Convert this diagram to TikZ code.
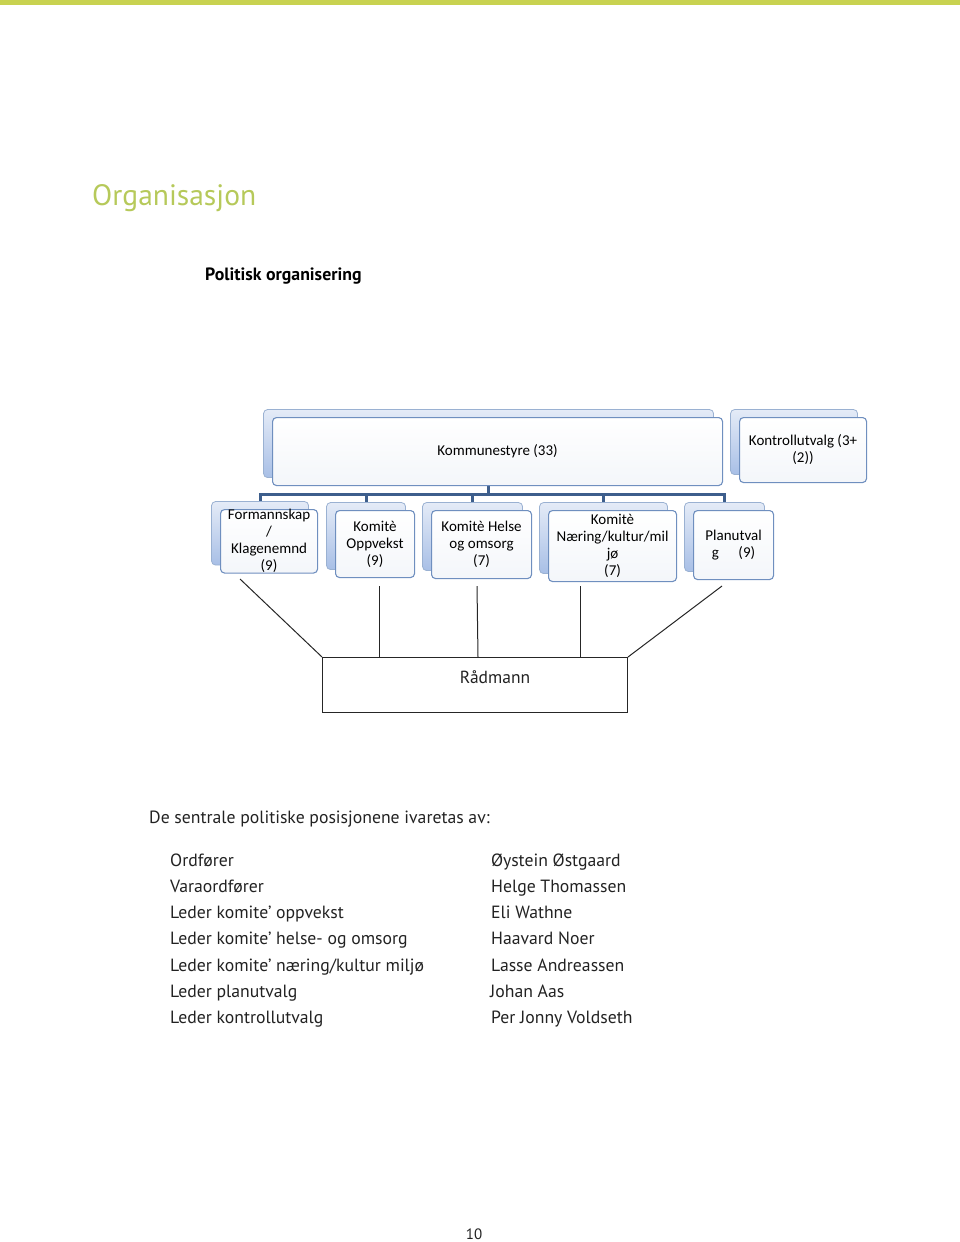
\documentclass[tikz,border=0pt]{standalone}
\usepackage{fontspec}
\setmainfont{PT Sans}
\newfontfamily\boxfont{Carlito}
\usetikzlibrary{shadows,backgrounds,calc}
\definecolor{barg}{HTML}{C8D250}
\definecolor{titleg}{HTML}{B6C95A}
\definecolor{bordb}{HTML}{6F8FBF}
\definecolor{connb}{HTML}{3D5E8C}
\definecolor{shadtop}{HTML}{E4EBF7}
\definecolor{shadbot}{HTML}{A8BFE6}
\definecolor{txt}{HTML}{222222}
\begin{document}
\begin{tikzpicture}[x=1pt,y=-1pt,
  orgbox/.style={draw=bordb, line width=1.1pt, rounded corners=4pt,
    top color=white, bottom color=white!92!bordb, align=center, inner sep=0pt,
    anchor=north west, text=black,
    font=\boxfont\fontsize{15}{17}\selectfont,
    general shadow={shadow xshift=-9pt, shadow yshift=8pt, draw=bordb!70,
      line width=0.8pt, top color=shadtop, bottom color=shadbot, rounded corners=4pt}},
  conn/.style={draw=connb, line width=3pt},
  thin/.style={draw=black!85, line width=1pt},
  body/.style={font=\fontsize{17.7}{20}\selectfont, text=txt, anchor=base west, inner sep=0pt}]
\useasboundingbox (0,0) rectangle (960,1242);
\fill[barg] (0,0) rectangle (960,5);

\node[anchor=base west, inner sep=0pt, text=titleg, font=\fontsize{29.5}{33}\selectfont] (title) at (92,205) {Organisasjon};
\node[anchor=base west, inner sep=0pt, text=black, font=\bfseries\fontsize{17.8}{20}\selectfont] (sub) at (205,280) {Politisk organisering};

% org boxes
\node[orgbox, minimum width=450pt, minimum height=68pt] (komm) at (272,417) {Kommunestyre (33)};
\node[orgbox, minimum width=127pt, minimum height=65pt] (kontr) at (739,417) {Kontrollutvalg (3+\\(2))};
\node[orgbox, minimum width=97pt, minimum height=63pt] (form) at (220,509) {Formannskap\\/\\Klagenemnd\\(9)};
\node[orgbox, minimum width=79pt, minimum height=67pt] (oppv) at (335,510) {Komitè\\Oppvekst\\(9)};
\node[orgbox, minimum width=100pt, minimum height=68pt] (helse) at (431,510) {Komitè Helse\\og omsorg\\(7)};
\node[orgbox, minimum width=128pt, minimum height=71pt] (naer) at (548,510) {Komitè\\Næring/kultur/mil\\jø\\(7)};
\node[orgbox, minimum width=80pt, minimum height=69pt] (plan) at (693,510) {Planutval\\g\hspace{1.3em}(9)};

\begin{scope}[on background layer]
  \draw[conn] ($(komm.south)+(-9,-8)$) -- ++(0,16) coordinate (j);
  \draw[conn] (j) -| ($(form.north)+(-9,-8)$);
  \draw[conn] (j) -| ($(oppv.north)+(-9,-8)$);
  \draw[conn] (j) -| ($(helse.north)+(-9,-8)$);
  \draw[conn] (j) -| ($(naer.north)+(-9,-8)$);
  \draw[conn] (j) -| ($(plan.north)+(-9,-8)$);
\end{scope}

% Radmann
\node[thin, draw, minimum width=305pt, minimum height=55pt, anchor=north west, inner sep=0pt] (radm) at (322,657) {};
\node[anchor=base, inner sep=0pt, text=txt, font=\fontsize{17.5}{20}\selectfont] (radmt) at ($(radm.north)+(20,26)$) {Rådmann};
\coordinate (a1) at (240,579);
\coordinate (a2) at (379,586);
\coordinate (a3) at (477,586);
\coordinate (a4) at (580,586);
\coordinate (a5) at (722,586);
\draw[thin] (a1) -- (radm.north west);
\draw[thin] (a2) -- (a2 |- radm.north);
\draw[thin] (a3) -- ($(radm.north west)+(156,0)$);
\draw[thin] (a4) -- (a4 |- radm.north);
\draw[thin] (a5) -- (radm.north east);

% text
\node[body] (intro) at (149,823) {De sentrale politiske posisjonene ivaretas av:};
\node[body] (l1) at (170,866) {Ordfører};
\node[body] (l2) at (170,892.3) {Varaordfører};
\node[body] (l3) at (170,918.5) {Leder komite’ oppvekst};
\node[body] (l4) at (170,944.8) {Leder komite’ helse- og omsorg};
\node[body] (l5) at (170,971) {Leder komite’ næring/kultur miljø};
\node[body] (l6) at (170,997.3) {Leder planutvalg};
\node[body] (l7) at (170,1023.5) {Leder kontrollutvalg};
\node[body] (r1) at (491,866) {Øystein Østgaard};
\node[body] (r2) at (491,892.3) {Helge Thomassen};
\node[body] (r3) at (491,918.5) {Eli Wathne};
\node[body] (r4) at (491,944.8) {Haavard Noer};
\node[body] (r5) at (491,971) {Lasse Andreassen};
\node[body] (r6) at (490,997.3) {Johan Aas};
\node[body] (r7) at (491,1023.5) {Per Jonny Voldseth};

\node[anchor=base, inner sep=0pt, text=txt, font=\fontsize{15}{18}\selectfont] (page) at (474,1239) {10};
\end{tikzpicture}
\end{document}
